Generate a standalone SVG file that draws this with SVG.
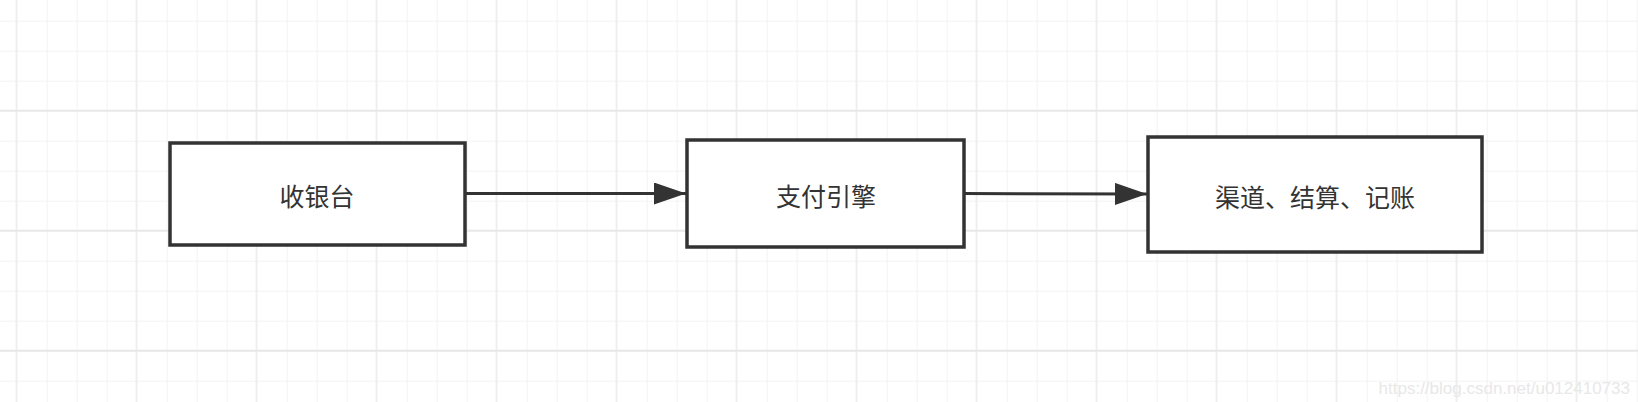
<svg xmlns="http://www.w3.org/2000/svg" width="1638" height="402" viewBox="0 0 1638 402">
<defs>
<pattern id="minor" x="16.7" y="20.7" width="30" height="30" patternUnits="userSpaceOnUse">
<path d="M0 0V30M0 0H30" fill="none" stroke="#f0f0f0" stroke-width="1.5"/>
</pattern>
<pattern id="major" x="16.7" y="20.7" width="120" height="120" patternUnits="userSpaceOnUse">
<path d="M120 0V120M0 90H120" fill="none" stroke="#e8e8e8" stroke-width="2"/>
</pattern>
<marker id="arrow" viewBox="0 0 32 22" refX="32" refY="11" markerWidth="32" markerHeight="22" markerUnits="userSpaceOnUse" orient="auto">
<path d="M0 0L32 11L0 22Z" fill="#333"/>
</marker>
<style>
.box{fill:#fff;stroke:#333;stroke-width:3.5}
.lbl{font-family:"Noto Sans CJK SC","Noto Sans",sans-serif;font-size:25px;fill:#333;text-anchor:middle;dominant-baseline:central}
.edge{stroke:#333;stroke-width:3;fill:none}
</style>
</defs>
<rect width="1638" height="402" fill="#fff"/>
<rect width="1638" height="402" fill="url(#minor)"/>
<rect width="1638" height="402" fill="url(#major)"/>
<g id="connectors">
<line class="edge" x1="465" y1="193.5" x2="686" y2="193.5" marker-end="url(#arrow)"/>
<line class="edge" x1="964" y1="193.5" x2="1147" y2="194" marker-end="url(#arrow)"/>
</g>
<g id="node-cashier">
<rect class="box" x="170" y="143" width="295" height="102"/>
<text class="lbl" x="317" y="195">收银台</text>
</g>
<g id="node-engine">
<rect class="box" x="687" y="140" width="277" height="107"/>
<text class="lbl" x="826" y="195">支付引擎</text>
</g>
<g id="node-channel">
<rect class="box" x="1148" y="137" width="334" height="115"/>
<text class="lbl" x="1315" y="196">渠道、结算、记账</text>
</g>
<text x="1630" y="394" font-family="Liberation Sans, Arial, sans-serif" font-size="17" fill="#e8e8e8" text-anchor="end">https://blog.csdn.net/u012410733</text>
</svg>
